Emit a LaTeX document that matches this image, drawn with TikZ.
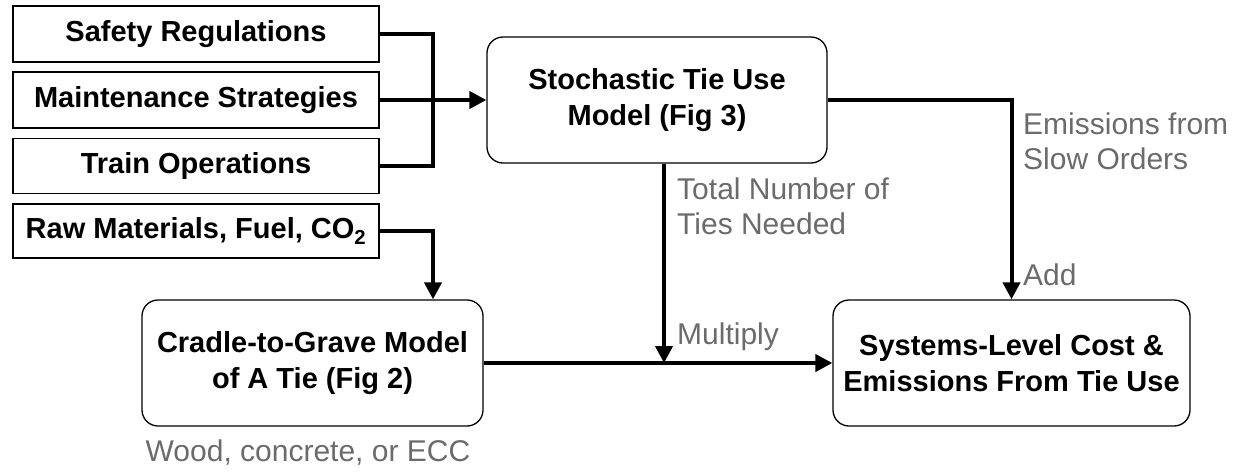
\documentclass[tikz,border=0pt]{standalone}
\usepackage{fontspec}
\setmainfont{Liberation Sans}
\usetikzlibrary{arrows.meta,calc}
\definecolor{lblgray}{HTML}{6B6B6B}
\begin{document}
\begin{tikzpicture}[x=1pt,y=-1pt,
  inbox/.style={draw, line width=1.3pt, minimum width=366pt, inner sep=0pt, font=\fontsize{29}{35}\selectfont\bfseries},
  modelbox/.style={draw, line width=1.3pt, rounded corners=16pt, minimum height=126pt, inner sep=0pt, align=center, font=\fontsize{29}{36}\selectfont\bfseries},
  conn/.style={line width=4pt},
  arr/.style={line width=4pt, -{Triangle[length=17pt,width=17pt]}},
  lbl/.style={text=lblgray, inner sep=0pt, align=left, font=\fontsize{30}{35}\selectfont}
]
\useasboundingbox (0,0) rectangle (1234,472);
\node[inbox, minimum height=56pt] (safety) at (196,34) {Safety Regulations};
\node[inbox, minimum height=56pt] (maint) at (196,100) {Maintenance Strategies};
\node[inbox, minimum height=55pt] (train) at (196,166) {Train Operations};
\node[inbox, minimum height=54pt] (raw) at (196,231) {Raw Materials, Fuel, CO\textsubscript{2}};
\node[modelbox, minimum width=340pt] (stoch) at (657,100) {Stochastic Tie Use\\Model (Fig 3)};
\node[modelbox, minimum width=341pt] (cradle) at (312.5,363) {Cradle-to-Grave Model\\of A Tie (Fig 2)};
\node[modelbox, minimum width=357pt] (sys) at (1011.5,363) {Systems-Level Cost \&\\Emissions From Tie Use};
\coordinate (jx) at (433,0);
\coordinate (mult) at (664,363);
\draw[conn] (safety.east) -| (jx |- train.east) -- (train.east);
\draw[arr] (maint.east) -- (stoch.west);
\draw[arr] (raw.east) -| (jx |- cradle.north);
\draw[arr] (stoch.east) -| (sys.north);
\draw[arr] (mult |- stoch.south) -- (mult);
\draw[arr] (cradle.east) -- (sys.west);
\node[lbl, anchor=west] (ltot) at (677,206.5) {Total Number of\\Ties Needed};
\node[lbl, anchor=west] (lemi) at (1023,141.5) {Emissions from\\Slow Orders};
\node[lbl, anchor=west] (ladd) at (1023,275) {Add};
\node[lbl, anchor=west] (lmul) at (677,337) {Multiply};
\node[lbl] (lwood) at (308,453) {Wood, concrete, or ECC};
\end{tikzpicture}
\end{document}
